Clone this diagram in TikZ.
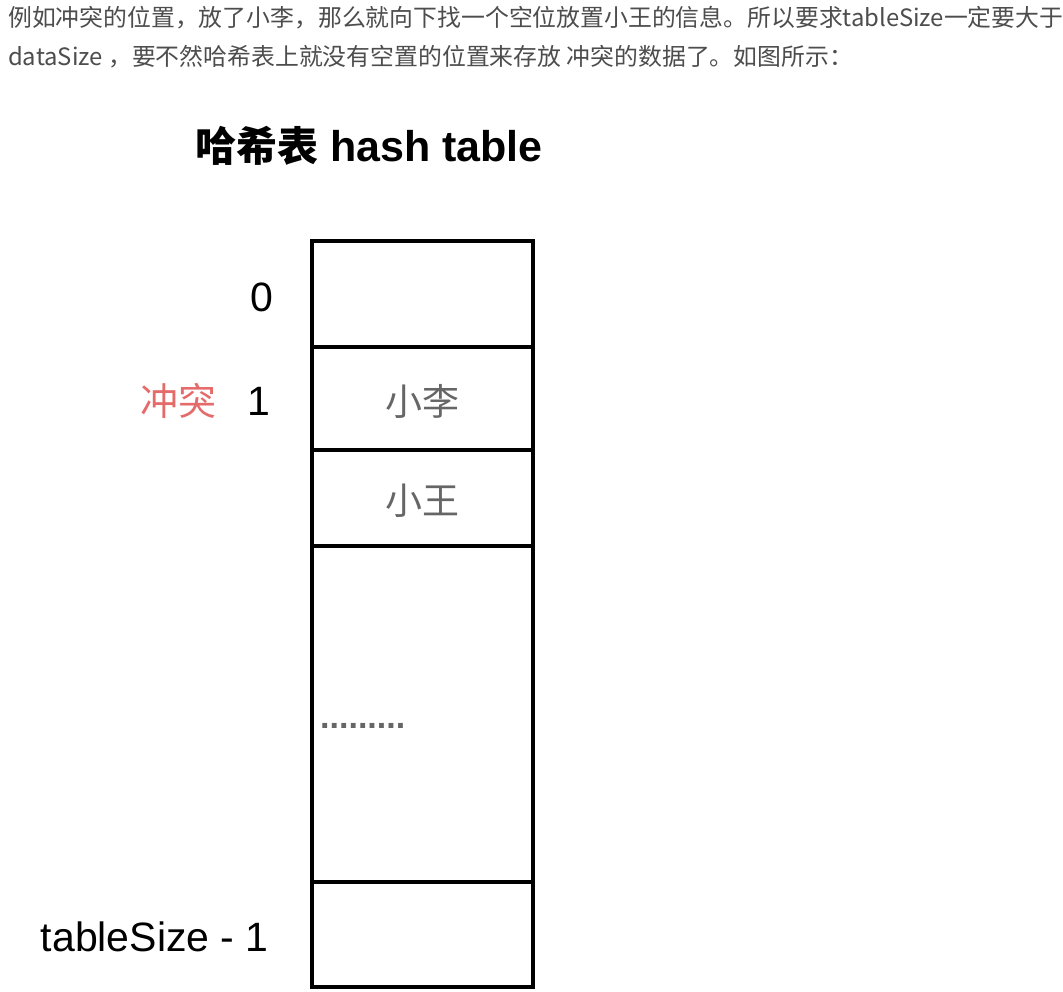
\documentclass[tikz,border=0pt]{standalone}
\usepackage{fontspec}
\setmainfont{Liberation Sans}
\setsansfont{Liberation Sans}
\newfontfamily\cjk{Noto Sans CJK SC}
\definecolor{bodytext}{HTML}{4D4D4D}
\definecolor{celltext}{HTML}{666666}
\definecolor{conflict}{HTML}{E56B6B}
\begin{document}
\begin{tikzpicture}[x=1pt,y=-1pt,
  para/.style={anchor=west, inner sep=0pt, text=bodytext, font=\cjk\fontsize{23.85}{28}\selectfont},
  cell/.style={draw=black, line width=4.4pt, minimum width=221pt, inner sep=0pt, rectangle},
  idx/.style={anchor=east, inner sep=0pt, font=\sffamily\fontsize{41}{46}\selectfont},
  entry/.style={inner sep=0pt, text=celltext, font=\cjk\fontsize{37}{42}\selectfont}]
\useasboundingbox (0,0) rectangle (1063,992);
\fill[white] (0,0) rectangle (1063,992);
% paragraph
\node[para] (p1) at (8,18) {例如冲突的位置，放了小李，那么就向下找一个空位放置小王的信息。所以要求tableSize一定要大于};
\node[para] (p2) at (8,57) {dataSize ，要不然哈希表上就没有空置的位置来存放 冲突的数据了。如图所示：};
% title
\node[anchor=west, inner sep=0pt] (title) at (195,146) {{\cjk\bfseries\fontsize{41}{46}\selectfont 哈希表}{\sffamily\bfseries\fontsize{43}{46}\selectfont\ hash table}};
% table cells
\node[cell, minimum height=106pt] (c0) at (422.5,294) {};
\node[cell, minimum height=103pt] (c1) at (422.5,398.5) {};
\node[cell, minimum height=96pt] (c2) at (422.5,498) {};
\node[cell, minimum height=336pt] (c3) at (422.5,714) {};
\node[cell, minimum height=105pt] (c4) at (422.5,934.5) {};
% contents
\node[entry] (li) at (422,401) {小李};
\node[entry] (wang) at (422,501) {小王};
\node[anchor=base west, inner sep=0pt, text=celltext, font=\sffamily\bfseries\fontsize{34}{40}\selectfont] (dots) at (320,728) {.........};
% indices
\node[idx] (i0) at (273,297) {0};
\node[idx] (i1) at (270,401) {1};
\node[idx] (iN) at (269,937) {tableSize - 1};
\node[anchor=east, inner sep=0pt, text=conflict, font=\cjk\fontsize{38}{44}\selectfont] (ct) at (217,401) {冲突};
\end{tikzpicture}
\end{document}
